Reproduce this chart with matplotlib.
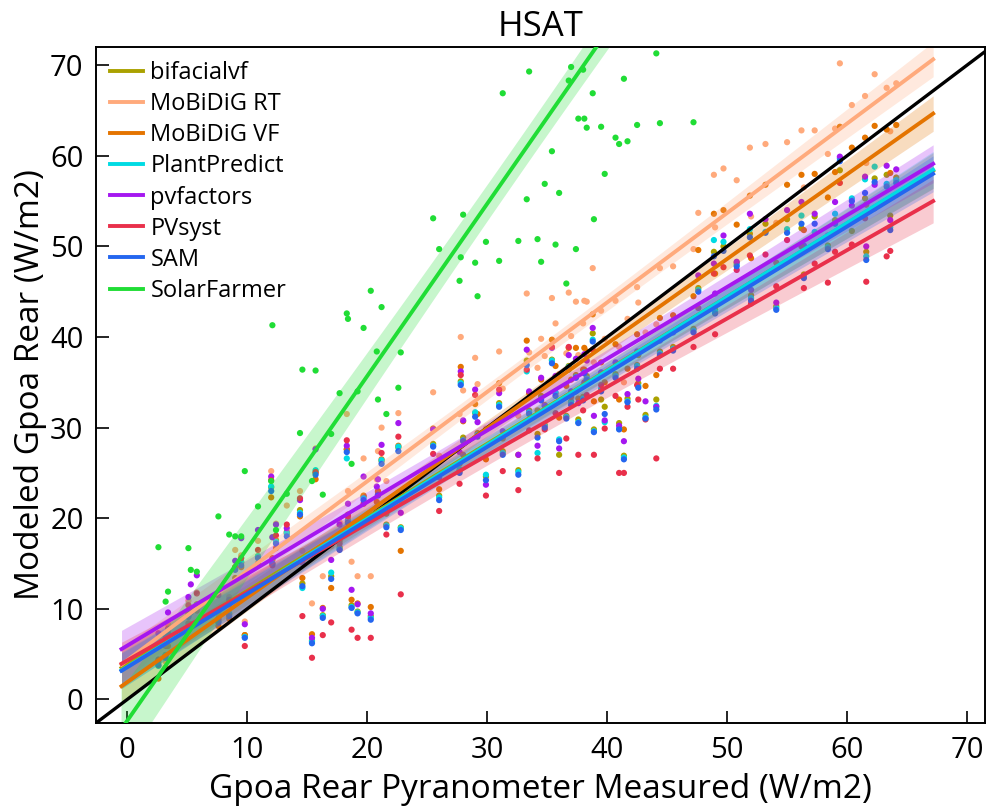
import numpy as np
import matplotlib
matplotlib.use("Agg")
import matplotlib.pyplot as plt

plt.rcParams['font.family'] = ['Open Sans', 'DejaVu Sans']

# measured rear irradiance (pyranometer), one entry per timestamp
measured = [
    2.6, 3.2, 3.4, 5.1, 5.3, 5.8, 7.6, 8.5, 9.0, 9.5,
    9.8, 10.9, 12.0, 12.1, 12.4, 13.3, 14.4, 14.6, 15.4, 15.7,
    16.3, 17.0, 17.7, 18.3, 18.4, 18.7, 19.2, 19.7, 20.3, 20.8,
    20.9, 21.2, 21.6, 22.6, 22.8, 25.5, 26.0, 27.7, 27.8, 28.0,
    29.0, 29.2, 29.9, 31.0, 31.3, 32.6, 33.3, 33.5, 34.2, 34.5,
    34.8, 35.4, 35.7, 36.0, 36.6, 36.8, 37.0, 37.4, 37.6, 38.0,
    38.1, 38.3, 38.8, 38.9, 39.5, 39.8, 40.7, 41.0, 41.4, 41.7,
    42.5, 42.6, 43.2, 44.1, 44.4, 45.5, 47.2, 47.6, 48.9, 49.0,
    49.7, 50.8, 51.9, 52.0, 53.2, 54.1, 55.0, 56.2, 56.4, 57.3,
    58.4, 59.0, 59.4, 60.4, 61.5, 61.6, 62.3, 63.3, 63.6, 64.1,
]

bifacialvf = [
    4.1, 4.9, 7.6, 9.5, 9.8, 10.5, 8.9, 9.4, 14.6, 15.1,
    7.1, 15.8, 23.4, 15.4, 17.6, 18.3, 20.9, 12.8, 6.5, 25.0,
    9.3, 13.6, 16.8, 27.6, 19.8, 10.4, 9.7, 22.4, 9.2, 20.7,
    22.9, 26.3, 19.3, 27.8, 19.0, 28.2, 22.5, 25.2, 35.1, 28.9,
    31.6, 29.4, 24.6, 32.7, 27.4, 25.3, 37.4, 31.9, 29.3, 33.5,
    30.3, 37.5, 33.8, 27.0, 31.3, 36.8, 32.9, 35.8, 30.9, 33.4,
    36.4, 35.7, 40.4, 29.8, 33.1, 32.3, 35.9, 30.5, 26.9, 33.2,
    36.9, 34.9, 31.4, 33.1, 38.4, 38.9, 40.9, 45.4, 49.4, 43.0,
    50.0, 48.2, 51.4, 44.6, 52.5, 43.4, 53.0, 52.0, 46.9, 53.3,
    50.1, 52.9, 58.4, 51.7, 55.3, 49.4, 57.5, 57.9, 53.4, 57.6,
]

mobidig_rt = [
    5.9, 4.2, 8.3, 10.9, 10.0, 11.8, 9.5, 11.3, 16.5, 15.9,
    8.6, 17.5, 25.2, 17.9, 19.4, 21.4, 23.0, 16.4, 10.6, 27.7,
    13.6, 16.9, 19.6, 31.5, 23.0, 15.2, 13.6, 26.6, 13.6, 24.3,
    27.4, 30.0, 24.1, 31.6, 22.0, 33.9, 26.9, 31.5, 40.0, 34.1,
    37.7, 34.8, 29.9, 38.4, 34.3, 31.3, 44.8, 38.3, 36.6, 39.8,
    37.9, 44.3, 41.5, 35.9, 38.2, 44.9, 40.1, 43.9, 38.0, 41.5,
    44.0, 43.9, 47.6, 37.2, 42.9, 39.8, 44.0, 38.9, 35.0, 42.0,
    45.5, 43.8, 40.5, 41.4, 47.6, 47.8, 49.7, 53.7, 57.9, 52.1,
    58.6, 57.3, 60.9, 53.3, 61.3, 52.6, 61.5, 62.8, 56.5, 62.8,
    60.2, 63.0, 70.2, 65.6, 66.6, 59.2, 69.0, 67.5, 62.7, 68.0,
]

mobidig_vf = [
    2.3, 3.5, 5.9, 8.4, 8.3, 9.8, 8.1, 8.9, 13.4, 14.6,
    7.1, 15.0, 22.3, 15.6, 16.7, 18.5, 20.2, 13.4, 7.2, 24.3,
    10.1, 12.3, 17.5, 27.6, 20.4, 11.0, 10.6, 22.5, 10.2, 21.8,
    23.0, 26.5, 20.5, 28.0, 16.4, 29.9, 23.2, 26.0, 36.7, 30.7,
    32.6, 31.5, 26.5, 34.9, 28.8, 27.0, 39.6, 33.8, 31.9, 35.3,
    32.5, 39.7, 36.8, 31.1, 34.6, 38.8, 35.3, 38.8, 33.2, 36.4,
    38.8, 38.4, 42.5, 32.9, 37.2, 35.0, 39.2, 33.1, 29.8, 36.5,
    40.3, 38.0, 34.6, 35.8, 42.1, 42.4, 44.5, 49.6, 53.6, 47.0,
    54.0, 52.4, 55.6, 48.7, 56.8, 48.2, 56.8, 57.9, 51.8, 58.0,
    55.4, 58.2, 63.2, 60.9, 62.0, 54.6, 63.3, 62.9, 58.1, 63.4,
]

plantpredict = [
    3.7, 4.9, 7.3, 9.2, 10.0, 10.4, 8.6, 9.5, 14.4, 15.2,
    6.9, 15.8, 23.5, 15.0, 17.4, 18.4, 20.6, 12.3, 6.4, 25.3,
    9.2, 14.0, 16.6, 26.6, 19.7, 10.2, 9.6, 22.2, 9.0, 20.9,
    22.6, 26.4, 19.2, 27.9, 18.9, 28.0, 22.3, 25.4, 34.9, 28.6,
    31.7, 29.2, 24.8, 32.5, 27.2, 25.1, 36.2, 31.7, 27.2, 33.2,
    30.2, 37.4, 33.9, 28.7, 31.2, 36.7, 32.8, 35.6, 30.6, 33.2,
    36.1, 35.4, 39.7, 29.6, 34.3, 30.6, 35.7, 29.9, 26.7, 32.9,
    36.8, 34.6, 31.1, 32.4, 38.2, 38.7, 40.7, 45.2, 50.7, 42.8,
    50.5, 48.0, 51.9, 44.3, 51.6, 43.2, 51.9, 53.4, 46.7, 51.6,
    49.9, 53.6, 59.7, 55.3, 57.4, 48.9, 58.8, 56.9, 52.1, 57.3,
]

pvfactors = [
    7.3, 6.9, 9.6, 11.3, 12.7, 13.7, 11.5, 11.0, 15.3, 17.8,
    8.3, 18.7, 24.6, 17.9, 19.3, 18.9, 22.0, 15.1, 6.8, 27.6,
    10.0, 15.4, 19.3, 28.0, 21.6, 12.1, 10.5, 24.6, 9.5, 23.5,
    24.3, 28.1, 21.8, 30.5, 20.6, 29.8, 24.5, 27.3, 36.2, 30.8,
    34.2, 30.6, 23.7, 33.8, 29.6, 27.0, 38.6, 34.0, 28.0, 35.5,
    32.4, 38.8, 35.7, 27.7, 33.4, 38.0, 34.0, 37.6, 32.7, 34.6,
    38.1, 37.4, 41.0, 31.3, 36.1, 30.8, 37.2, 30.2, 28.5, 33.7,
    38.4, 35.4, 32.9, 32.3, 39.6, 40.5, 42.0, 46.8, 48.1, 44.8,
    51.2, 48.3, 53.6, 45.2, 53.0, 43.8, 54.0, 54.9, 50.1, 53.6,
    51.2, 54.9, 59.9, 54.5, 57.7, 50.0, 56.8, 58.9, 52.9, 58.5,
]

pvsyst = [
    4.4, 5.9, 7.8, 10.4, 9.9, 11.7, 8.8, 10.5, 14.6, 15.6,
    5.9, 16.5, 24.2, 14.8, 18.1, 19.3, 22.2, 9.2, 4.6, 25.1,
    7.1, 8.5, 17.2, 28.6, 20.2, 7.7, 6.8, 21.6, 6.8, 21.2,
    22.6, 27.2, 18.2, 29.0, 11.6, 27.1, 20.8, 23.8, 35.8, 27.0,
    33.6, 27.4, 22.5, 34.2, 25.2, 23.1, 36.4, 29.7, 26.6, 31.7,
    29.8, 38.9, 31.6, 25.0, 28.8, 38.9, 33.4, 34.0, 27.0, 31.9,
    35.0, 33.6, 38.6, 27.0, 34.7, 29.9, 33.5, 25.0, 25.0, 32.3,
    34.7, 33.1, 30.9, 26.6, 36.5, 36.5, 38.9, 43.2, 47.0, 40.3,
    47.7, 47.4, 49.0, 43.7, 49.1, 45.6, 50.7, 50.0, 45.4, 48.1,
    46.0, 49.4, 57.0, 50.2, 53.1, 46.1, 54.2, 48.9, 49.5, 55.7,
]

sam = [
    3.8, 4.6, 7.2, 9.1, 9.6, 10.3, 8.5, 9.2, 14.3, 14.8,
    6.8, 15.6, 23.0, 15.0, 17.2, 18.0, 20.4, 12.5, 6.2, 24.8,
    9.0, 13.3, 16.5, 27.3, 19.5, 10.1, 9.5, 22.0, 8.8, 20.5,
    22.5, 26.0, 19.0, 27.4, 18.7, 27.9, 22.0, 25.0, 34.7, 28.5,
    31.2, 29.0, 24.2, 32.3, 27.0, 24.8, 36.9, 31.5, 28.9, 33.0,
    30.0, 37.1, 33.5, 28.5, 31.0, 36.4, 32.5, 35.5, 30.5, 33.0,
    36.0, 35.3, 39.5, 29.5, 34.0, 31.5, 35.5, 29.8, 26.5, 32.8,
    36.5, 34.4, 31.0, 32.0, 38.0, 38.5, 40.5, 45.0, 48.9, 42.6,
    49.5, 47.8, 51.0, 44.0, 51.5, 43.0, 51.5, 52.5, 46.5, 52.5,
    49.7, 52.5, 59.4, 55.0, 55.9, 48.5, 57.1, 56.6, 51.8, 57.0,
]

# values above ~72 fall outside the visible window
solarfarmer = [
    16.8, 10.8, 11.9, 16.7, 14.3, 14.1, 20.2, 18.2, 18.0, 18.0,
    25.2, 21.3, 24.1, 41.3, 18.7, 22.7, 29.4, 36.4, 24.1, 36.3,
    22.6, 29.3, 33.8, 42.6, 42.0, 26.0, 34.0, 41.0, 45.1, 38.4,
    33.1, 43.3, 31.5, 34.4, 38.3, 53.1, 49.7, 46.2, 48.8, 53.5,
    48.2, 44.5, 50.5, 48.4, 66.9, 50.6, 55.2, 69.3, 50.8, 48.3,
    56.9, 60.5, 50.2, 55.9, 45.9, 68.3, 69.8, 49.7, 64.1, 69.5,
    64.1, 63.1, 66.9, 53.0, 63.2, 58.0, 62.0, 61.3, 68.5, 61.6,
    63.4, 77.0, 74.0, 71.3, 63.6, 77.5, 63.7, 86.0, 89.0, 85.0,
    93.0, 94.0, 100.0, 94.0, 104.0, 101.0, 110.0, 114.0, 108.0, 117.0,
    117.0, 124.0, 127.0, 127.0, 132.0, 126.0, 136.0, 137.0, 134.0, 140.0,
]

models = ["bifacialvf", "MoBiDiG RT", "MoBiDiG VF", "PlantPredict",
          "pvfactors", "PVsyst", "SAM", "SolarFarmer"]
series = [bifacialvf, mobidig_rt, mobidig_vf, plantpredict,
          pvfactors, pvsyst, sam, solarfarmer]
colors = ["#aaa100", "#ffaa7c", "#e47400", "#00dbe3",
          "#a517f0", "#e9304b", "#2466ef", "#20dd35"]


def fit_with_ci(x, y, grid):
    slope, icpt = np.polyfit(x, y, 1)
    resid = y - (icpt + slope * x)
    n = len(x)
    s = np.sqrt(np.sum(resid ** 2) / (n - 2))
    sxx = np.sum((x - x.mean()) ** 2)
    se = s * np.sqrt(1.0 / n + (grid - x.mean()) ** 2 / sxx)
    return icpt + slope * grid, 1.984 * se


fig = plt.figure(figsize=(9.87, 8.11), dpi=100)
ax = fig.add_axes([0.0973, 0.1085, 0.9007, 0.8335])

x = np.array(measured)
# regression lines span the autoscaled x range (5% margin), like regplot
span = x.max() - x.min()
grid = np.linspace(x.min() - 0.05 * span, x.max() + 0.05 * span, 100)

for name, vals, col in zip(models, series, colors):
    ax.scatter(x, vals, s=20, color=col, edgecolors='none', zorder=1)

ax.axline((0, 0), slope=1, color='black', lw=2.4, zorder=3)

for name, vals, col in zip(models, series, colors):
    y = np.array(vals)
    pred, half = fit_with_ci(x, y, grid)
    ax.fill_between(grid, pred - half, pred + half, color=col, alpha=0.25,
                    lw=0, zorder=2)
    ax.plot(grid, pred, color=col, lw=2.8, label=name, zorder=4)

ax.set_xlim(-2.6, 71.5)
ax.set_ylim(-2.6, 72.0)
ax.set_xticks(range(0, 71, 10))
ax.set_yticks(range(0, 71, 10))
ax.tick_params(direction='in', length=9, width=1.2, labelsize=21, pad=9)
for sp in ax.spines.values():
    sp.set_linewidth(1.4)

ax.set_title('HSAT', fontsize=25, pad=8)
ax.set_xlabel('Gpoa Rear Pyranometer Measured (W/m2)', fontsize=24, labelpad=6)
ax.set_ylabel('Modeled Gpoa Rear (W/m2)', fontsize=24, labelpad=2)

ax.legend(loc='upper left', frameon=False, fontsize=17, handlelength=1.4,
          handletextpad=0.3, labelspacing=0.3, borderaxespad=0.2)

fig.savefig('out.png', dpi=100)
